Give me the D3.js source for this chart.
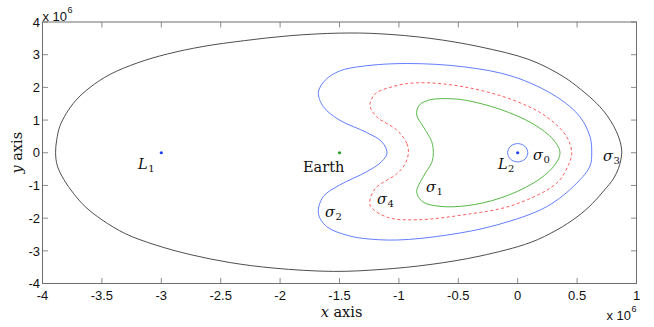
<!DOCTYPE html>
<html><head><meta charset="utf-8">
<script src="https://cdn.jsdelivr.net/npm/d3@7"></script>
<style>
html,body{margin:0;padding:0;background:#fff;}
svg{display:block;}
</style></head>
<body>
<svg id="chart" width="654" height="327"></svg>
<script>
// ---- data (units of 10^6) ----
const xTicks = [-4,-3.5,-3,-2.5,-2,-1.5,-1,-0.5,0,0.5,1];
const xTickLabels = ["-4","-3.5","-3","-2.5","-2","-1.5","-1","-0.5","0","0.5","1"];
const yTicks = [-4,-3,-2,-1,0,1,2,3,4];
const yTickLabels = ["-4","-3","-2","-1","0","1","2","3","4"];

const sigma3 = [[-3.89,0],[-3.88,0.4],[-3.855,0.8],[-3.80,1.2],[-3.72,1.6],[-3.60,2.0],[-3.43,2.4],[-3.20,2.75],[-2.95,3.02],[-2.65,3.25],[-2.30,3.43],[-1.92,3.58],[-1.50,3.66],[-1.16,3.64],[-0.738,3.50],[-0.317,3.24],[0.104,2.84],[0.384,2.33],[0.53,1.94],[0.665,1.51],[0.75,1.15],[0.81,0.80],[0.85,0.48],[0.87,0.22],[0.876,0],[0.868,-0.22],[0.848,-0.48],[0.805,-0.80],[0.73,-1.14],[0.63,-1.55],[0.50,-1.96],[0.33,-2.36],[0.104,-2.75],[-0.317,-3.16],[-0.738,-3.42],[-1.15,-3.57],[-1.55,-3.63],[-2.05,-3.53],[-2.42,-3.36],[-2.75,-3.12],[-3.05,-2.82],[-3.30,-2.48],[-3.50,-2.05],[-3.64,-1.65],[-3.74,-1.24],[-3.82,-0.82],[-3.875,-0.4]];
const sigma2 = [[-1.10,0],[-1.145,0.34],[-1.271,0.62],[-1.50,1.0],[-1.636,1.41],[-1.678,1.85],[-1.62,2.22],[-1.50,2.50],[-1.30,2.65],[-0.934,2.73],[-0.458,2.63],[-0.037,2.33],[0.328,1.71],[0.524,1.10],[0.609,0.49],[0.623,0],[0.609,-0.40],[0.497,-0.93],[0.244,-1.65],[-0.177,-2.21],[-0.598,-2.52],[-1.019,-2.67],[-1.30,-2.62],[-1.44,-2.52],[-1.608,-2.26],[-1.678,-1.85],[-1.636,-1.34],[-1.50,-0.99],[-1.271,-0.58],[-1.145,-0.27]];
const sigma4 = [[-0.92,0],[-0.934,0.29],[-1.019,0.70],[-1.187,1.10],[-1.243,1.45],[-1.20,1.80],[-1.075,2.0],[-0.85,2.14],[-0.458,2.02],[-0.037,1.61],[0.244,1.10],[0.412,0.49],[0.455,0],[0.43,-0.35],[0.328,-0.93],[-0.037,-1.60],[-0.458,-1.90],[-0.85,-2.05],[-1.10,-1.97],[-1.243,-1.60],[-1.20,-1.10],[-1.02,-0.65],[-0.949,-0.35]];
const sigma1 = [[-0.71,0],[-0.724,0.34],[-0.795,0.80],[-0.85,1.15],[-0.83,1.45],[-0.738,1.62],[-0.55,1.65],[-0.43,1.60],[-0.149,1.33],[0.131,0.88],[0.30,0.40],[0.356,0],[0.30,-0.43],[0.131,-0.93],[-0.149,-1.39],[-0.43,-1.62],[-0.654,-1.64],[-0.80,-1.50],[-0.85,-1.20],[-0.795,-0.73],[-0.724,-0.30]];
const sigma0 = [[0.085,0],[0.06,0.2],[0,0.28],[-0.06,0.2],[-0.085,0],[-0.06,-0.2],[0,-0.28],[0.06,-0.2]];

const pointNames = ["L1","Earth","L2"];
const pointX = [-3,-1.5,0];
const pointY = [0,0,0];

const labelMain = ["L","Earth","L","σ","σ","σ","σ","σ"];
const labelSub  = ["1","","2","0","1","2","3","4"];
const labelX = [-3.196,-1.807,-0.166,0.129,-0.772,-1.622,0.718,-1.184];
const labelY = [-0.50,-0.59,-0.50,-0.22,-1.20,-1.96,-0.25,-1.57];

// ---- drawing ----
const svg = d3.select("#chart");
const L = 42.5, R = 636.5, T = 22, B = 283.5;
const x = d3.scaleLinear().domain([-4,1]).range([L,R]);
const y = d3.scaleLinear().domain([-4,4]).range([B,T]);

const curves = [
  {d:sigma3, color:"#3a3a3a", dash:null},
  {d:sigma2, color:"#4f6fff", dash:null},
  {d:sigma4, color:"#ff4a4a", dash:"3,2.5"},
  {d:sigma1, color:"#44b030", dash:null},
  {d:sigma0, color:"#4f6fff", dash:null}
];
const line = d3.line().x(d=>x(d[0])).y(d=>y(d[1])).curve(d3.curveCatmullRomClosed.alpha(0.5));
const plot = svg.append("g");
curves.forEach(c=>{
  plot.append("path").attr("d", line(c.d)).attr("fill","none")
    .attr("stroke", c.color).attr("stroke-width",0.9)
    .attr("stroke-dasharray", c.dash);
});

const pointColors = ["#1f3fff","#22a022","#1f3fff"];
pointX.forEach((px,i)=>{
  plot.append("circle").attr("cx",x(px)).attr("cy",y(pointY[i])).attr("r",1.6).attr("fill",pointColors[i]);
});

// labels
labelMain.forEach((t,i)=>{
  const italic = t !== "Earth";
  const txt = svg.append("text").attr("x",x(labelX[i])).attr("y",y(labelY[i]))
    .attr("font-family","'DejaVu Serif', 'Liberation Serif', serif").attr("font-size",14.5)
    .attr("fill","#111");
  txt.append("tspan").attr("font-style", italic ? "italic" : "normal").text(t);
  if (labelSub[i]) txt.append("tspan").attr("font-size",10).attr("dy",3).attr("dx",0.5).text(labelSub[i]);
});

// axes box
const axColor = "#6e6e6e";
svg.append("rect").attr("x",L).attr("y",T).attr("width",R-L).attr("height",B-T)
  .attr("fill","none").attr("stroke",axColor).attr("stroke-width",1);

const tickLen = 5.5;
const gT = svg.append("g").attr("stroke",axColor).attr("stroke-width",0.8);
xTicks.forEach(v=>{
  gT.append("line").attr("x1",x(v)).attr("x2",x(v)).attr("y1",B).attr("y2",B-tickLen);
  gT.append("line").attr("x1",x(v)).attr("x2",x(v)).attr("y1",T).attr("y2",T+tickLen);
});
yTicks.forEach(v=>{
  gT.append("line").attr("y1",y(v)).attr("y2",y(v)).attr("x1",L).attr("x2",L+tickLen);
  gT.append("line").attr("y1",y(v)).attr("y2",y(v)).attr("x1",R).attr("x2",R-tickLen);
});

const tickFont = "'Liberation Sans', Arial, sans-serif";
xTicks.forEach((v,i)=>{
  svg.append("text").attr("x",x(v)).attr("y",B+16.5).attr("text-anchor","middle")
    .attr("font-family",tickFont).attr("font-size",13).attr("fill","#111").text(xTickLabels[i]);
});
yTicks.forEach((v,i)=>{
  svg.append("text").attr("x",L-2.5).attr("y",y(v)+4.7).attr("text-anchor","end")
    .attr("font-family",tickFont).attr("font-size",13).attr("fill","#111").text(yTickLabels[i]);
});

// exponent labels
function expLabel(px, py){
  const t = svg.append("text").attr("x",px).attr("y",py).attr("font-family",tickFont)
    .attr("font-size",13).attr("fill","#111");
  t.append("tspan").text("x 10");
  t.append("tspan").attr("font-size",9).attr("dy",-8).attr("dx",0.5).text("6");
}
expLabel(L, T-1.5);
expLabel(R-30, B+36);

// axis titles
const xt = svg.append("text").attr("x",(L+R)/2 + 2).attr("y",317).attr("text-anchor","middle")
  .attr("font-family","'DejaVu Serif', 'Liberation Serif', serif").attr("font-size",14.5).attr("fill","#111");
xt.append("tspan").attr("font-style","italic").text("x");
xt.append("tspan").text(" axis");
const yt = svg.append("text").attr("transform",`translate(22,${(T+B)/2}) rotate(-90)`).attr("text-anchor","middle")
  .attr("font-family","'DejaVu Serif', 'Liberation Serif', serif").attr("font-size",14.5).attr("fill","#111");
yt.append("tspan").attr("font-style","italic").text("y");
yt.append("tspan").text(" axis");
</script>
</body></html>
